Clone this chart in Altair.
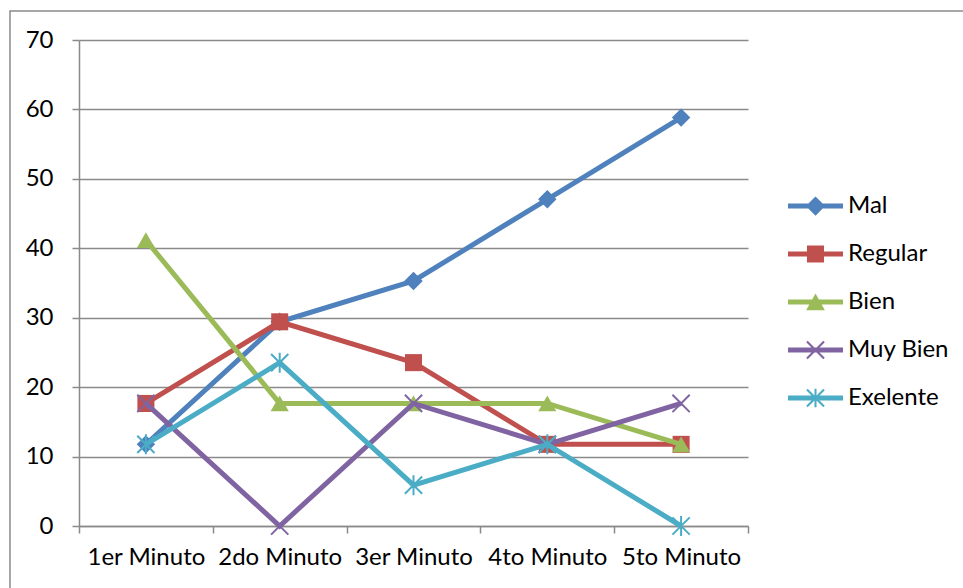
import math
import altair as alt
import pandas as pd

# Percentages per rating category over five minutes
minutes = ["1er Minuto", "2do Minuto", "3er Minuto", "4to Minuto", "5to Minuto"]
series_names = ["Mal", "Regular", "Bien", "Muy Bien", "Exelente"]
mal = [11.76, 29.41, 35.29, 47.06, 58.82]
regular = [17.65, 29.41, 23.53, 11.76, 11.76]
bien = [41.18, 17.65, 17.65, 17.65, 11.76]
muy_bien = [17.65, 0.0, 17.65, 11.76, 17.65]
exelente = [11.76, 23.53, 5.88, 11.76, 0.0]
y_ticks = [0, 10, 20, 30, 40, 50, 60, 70]

colors = ["#4F81BD", "#C0504D", "#9BBB59", "#8064A2", "#4BACC6"]
GRAY = "#8A8A8A"
FONT = "Lato"
FS = 24

rows = []
for name, vals in zip(series_names, [mal, regular, bien, muy_bien, exelente]):
    for m, v in zip(minutes, vals):
        rows.append({"minute": m, "series": name, "value": v})
df = pd.DataFrame(rows)


# ---- symbol path helpers (unit box [-1, 1]) ----
def poly(pts):
    area = sum(pts[i][0] * pts[(i + 1) % len(pts)][1] - pts[(i + 1) % len(pts)][0] * pts[i][1]
               for i in range(len(pts)))
    if area < 0:
        pts = pts[::-1]
    s = "M" + "L".join(f"{x:.3f},{y:.3f}" for x, y in pts) + "Z"
    return s


def seg(x1, y1, x2, y2, t):
    dx, dy = x2 - x1, y2 - y1
    L = math.hypot(dx, dy)
    nx, ny = -dy / L * t, dx / L * t
    return poly([(x1 + nx, y1 + ny), (x2 + nx, y2 + ny), (x2 - nx, y2 - ny), (x1 - nx, y1 - ny)])


bar = poly([(-1, -0.09), (1, -0.09), (1, 0.09), (-1, 0.09)])
leg_diamond = poly([(0, -0.35), (0.35, 0), (0, 0.35), (-0.35, 0)])
leg_square = poly([(-0.31, -0.31), (0.31, -0.31), (0.31, 0.31), (-0.31, 0.31)])
leg_triangle = poly([(0, -0.31), (0.34, 0.3), (-0.34, 0.3)])
a, t = 0.31, 0.038
leg_x = seg(-a, -a, a, a, t) + seg(-a, a, a, -a, t)
leg_star = leg_x + seg(0, -0.34, 0, 0.34, t)
legend_paths = [bar + leg_diamond, bar + leg_square, bar + leg_triangle, bar + leg_x, bar + leg_star]

# marker styles drawn on the data points
x_path = "M-0.95,-0.95L0.95,0.95M-0.95,0.95L0.95,-0.95"
star_path = "M-0.95,-0.95L0.95,0.95M-0.95,0.95L0.95,-0.95M0,-1.1L0,1.1"
markers = [
    dict(shape="diamond", filled=True, size=340),
    dict(shape="square", filled=True, size=290),
    dict(shape="triangle-up", filled=True, size=330),
    dict(shape=x_path, filled=False, size=330, strokeWidth=2),
    dict(shape=star_path, filled=False, size=330, strokeWidth=2),
]

X = alt.X(
    "minute:N",
    sort=minutes,
    scale=alt.Scale(type="band", paddingInner=0, paddingOuter=0),
    axis=alt.Axis(
        title=None, labelAngle=0, grid=False, tickBand="extent",
        tickSize=7, tickColor=GRAY, tickWidth=1.5,
        domainColor=GRAY, domainWidth=1.5,
        labelFont=FONT, labelFontSize=FS, labelColor="black", labelPadding=12,
    ),
)
Y = alt.Y(
    "value:Q",
    scale=alt.Scale(domain=[0, 70], nice=False),
    axis=alt.Axis(
        title=None, values=y_ticks, grid=True, gridColor=GRAY, gridWidth=1.5,
        tickSize=7, tickColor=GRAY, tickWidth=1.5,
        domainColor=GRAY, domainWidth=1.5,
        labelFont=FONT, labelFontSize=FS, labelColor="black", labelPadding=19,
    ),
)

base = alt.Chart(df)

# outer chart frame
frame = alt.Chart(pd.DataFrame({"k": [0]})).mark_rect(
    fillOpacity=0, stroke=GRAY, strokeWidth=1.5
).encode(
    x=alt.value(-69), x2=alt.value(900), y=alt.value(-29), y2=alt.value(600)
)

layers = [frame]
for name, color, mk in zip(series_names, colors, markers):
    sub = base.transform_filter(alt.datum.series == name)
    layers.append(sub.mark_line(color=color, strokeWidth=5).encode(x=X, y=Y))
    layers.append(sub.mark_point(color=color, opacity=1, **mk).encode(x=X, y=Y))

legend = alt.Legend(
    title=None, orient="none", legendX=709, legendY=156, padding=0,
    symbolSize=3025, clipHeight=20, rowPadding=24, labelOffset=5,
    labelFont=FONT, labelFontSize=FS, labelColor="black",
    symbolStrokeWidth=0, symbolOpacity=1,
)
legend_layer = base.transform_filter("false").mark_point(filled=True, opacity=1).encode(
    x=X, y=Y,
    color=alt.Color("series:N", sort=series_names,
                    scale=alt.Scale(domain=series_names, range=colors), legend=legend),
    shape=alt.Shape("series:N", sort=series_names,
                    scale=alt.Scale(domain=series_names, range=legend_paths), legend=legend),
)
layers.append(legend_layer)

chart = alt.layer(*layers).properties(
    width=669, height=486,
    padding={"left": 79, "top": 40, "right": 215, "bottom": 62},
    autosize=alt.AutoSizeParams(type="none"),
    background="white",
).configure_view(strokeWidth=0)

chart.save("out.html", embed_options={"renderer": "svg", "actions": False})
